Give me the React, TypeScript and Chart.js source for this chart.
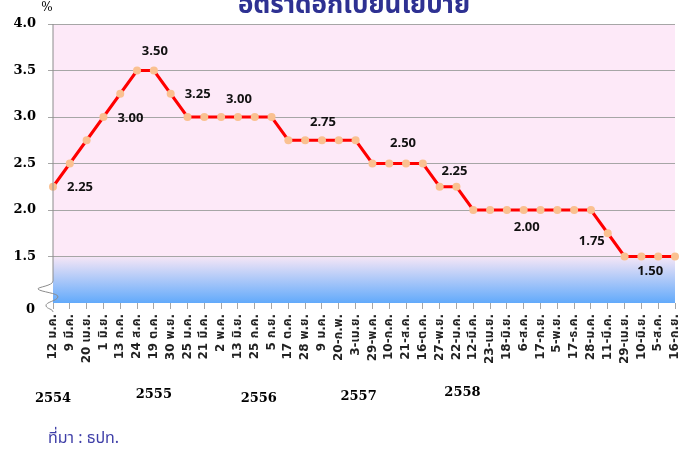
import React, { useEffect, useRef } from "react";
import { Chart, registerables } from "chart.js";

Chart.register(...registerables);

const categories = [
  "12 ม.ค.", "9 มี.ค.", "20 เม.ย.", "1 มิ.ย.", "13 ก.ค.", "24 ส.ค.", "19 ต.ค.", "30 พ.ย.",
  "25 ม.ค.", "21 มี.ค.", "2 พ.ค.", "13 มิ.ย.", "25 ก.ค.", "5 ก.ย.", "17 ต.ค.", "28 พ.ย.",
  "9 ม.ค.", "20-ก.พ.", "3-เม.ย.", "29-พ.ค.", "10-ก.ค.", "21-ส.ค.", "16-ต.ค.", "27-พ.ย.",
  "22-ม.ค.", "12-มี.ค.", "23-เม.ย.", "18-มิ.ย.", "6-ส.ค.", "17-ก.ย.", "5-พ.ย.", "17-ธ.ค.",
  "28-ม.ค.", "11-มี.ค.", "29-เม.ย.", "10-มิ.ย.", "5-ส.ค.", "16-ก.ย.",
];

const policyRate = [
  2.25, 2.5, 2.75, 3.0, 3.25, 3.5, 3.5, 3.25,
  3.0, 3.0, 3.0, 3.0, 3.0, 3.0, 2.75, 2.75,
  2.75, 2.75, 2.75, 2.5, 2.5, 2.5, 2.5, 2.25,
  2.25, 2.0, 2.0, 2.0, 2.0, 2.0, 2.0, 2.0,
  2.0, 1.75, 1.5, 1.5, 1.5, 1.5,
];

const yTickValues = [1.0, 1.5, 2.0, 2.5, 3.0, 3.5, 4.0];
const yTickLabels = ["0", "1.5", "2.0", "2.5", "3.0", "3.5", "4.0"];

const rateLabels = ["2.25", "3.00", "3.50", "3.25", "3.00", "2.75", "2.50", "2.25", "2.00", "1.75", "1.50"];
const rateLabelAnchors = [0, 3, 6, 7, 11, 16, 21, 24, 28, 33, 36];

const yearLabels = ["2554", "2555", "2556", "2557", "2558"];
const yearAnchors = [0, 6, 12, 18, 24];

const titleText = "อัตราดอกเบี้ยนโยบาย";
const unitText = "%";
const sourceText = "ที่มา : ธปท.";

// styling offsets (pixels) for rate labels and year labels
const rateLabelOffsets: [number, number][] = [
  [27, 1], [27, 1], [1, -19], [27, 1], [1, -18], [1, -18], [-3, -20], [-2, -15], [3, 17], [-16, 8], [-8, 15],
];
const yearLabelShift: [number, number][] = [[0, 2], [0, -2], [4, 2], [3, 0], [6, -4]];

const THAI_FONT = "Tahoma, 'Noto Sans Thai', 'Noto Sans', 'DejaVu Sans', sans-serif";
const XTICK_FONT = "'DejaVu Sans', 'Noto Sans Thai', sans-serif";
const SERIF = "'DejaVu Serif', 'Liberation Serif', serif";

const decorPlugin = {
  id: "decor",
  beforeDraw(chart: any) {
    const { ctx, chartArea } = chart;
    const y = chart.scales.y;
    const y15 = y.getPixelForValue(1.5);
    ctx.save();
    ctx.fillStyle = "#FDE9F8";
    ctx.fillRect(chartArea.left, chartArea.top, chartArea.right - chartArea.left, y15 - chartArea.top);
    const g = ctx.createLinearGradient(0, y15, 0, chartArea.bottom);
    g.addColorStop(0, "#F6E6F6");
    g.addColorStop(1, "#62AAFB");
    ctx.fillStyle = g;
    ctx.fillRect(chartArea.left, y15, chartArea.right - chartArea.left, chartArea.bottom - y15);
    ctx.restore();
  },
  afterDraw(chart: any) {
    const { ctx, chartArea } = chart;
    const xs = chart.scales.x;
    const ys = chart.scales.y;
    ctx.save();
    // y axis line with break symbol
    const ax = chartArea.left;
    ctx.strokeStyle = "#8C8C8C";
    ctx.lineWidth = 1;
    ctx.beginPath();
    ctx.moveTo(ax, chartArea.top);
    ctx.lineTo(ax, chartArea.bottom - 22);
    ctx.bezierCurveTo(ax, chartArea.bottom - 17, ax - 16, chartArea.bottom - 16, ax - 15, chartArea.bottom - 14);
    ctx.bezierCurveTo(ax - 13, chartArea.bottom - 11, ax + 6, chartArea.bottom - 10, ax + 5, chartArea.bottom - 6);
    ctx.bezierCurveTo(ax + 4, chartArea.bottom - 2, ax - 8, chartArea.bottom - 1, ax - 7, chartArea.bottom + 3);
    ctx.bezierCurveTo(ax - 6, chartArea.bottom + 6, ax, chartArea.bottom + 6, ax, chartArea.bottom + 9);
    ctx.stroke();

    // the "0" tick label sits a little below its tick in the reference
    ctx.font = "bold 13px " + SERIF;
    ctx.fillStyle = "#000000";
    ctx.textAlign = "right";
    ctx.textBaseline = "middle";
    ctx.fillText(yTickLabels[0], 35, ys.getPixelForValue(yTickValues[0]) + 7);

    // rate labels
    ctx.fillStyle = "#111111";
    ctx.font = "bold 13px 'Open Sans', 'DejaVu Sans', sans-serif";
    ctx.textAlign = "center";
    ctx.textBaseline = "middle";
    rateLabels.forEach((t, i) => {
      const idx = rateLabelAnchors[i];
      const px = xs.getPixelForValue(idx);
      const py = ys.getPixelForValue(policyRate[idx]);
      const [dx, dy] = rateLabelOffsets[i];
      ctx.fillText(t, px + dx, py + dy);
    });

    // year labels
    ctx.font = "bold 13px " + SERIF;
    ctx.fillStyle = "#000000";
    yearLabels.forEach((t, i) => {
      const px = xs.getPixelForValue(yearAnchors[i]);
      const [dx, dy] = yearLabelShift[i];
      ctx.fillText(t, px + dx, 397 + dy);
    });

    // title
    ctx.font = "bold 26px " + THAI_FONT;
    ctx.fillStyle = "#2E3192";
    ctx.textBaseline = "alphabetic";
    ctx.fillText(titleText, 354, 13);

    // unit
    ctx.font = "12px " + SERIF;
    ctx.fillStyle = "#000000";
    ctx.textAlign = "center";
    ctx.textBaseline = "middle";
    ctx.fillText(unitText, 47, 8);

    // source
    ctx.font = "16px " + THAI_FONT;
    ctx.fillStyle = "#3F3FA8";
    ctx.textAlign = "left";
    ctx.fillText(sourceText, 48, 440);
    ctx.restore();
  },
};

export default function App() {
  const ref = useRef<HTMLCanvasElement | null>(null);
  useEffect(() => {
    if (!ref.current) return;
    const chart = new Chart(ref.current, {
      type: "line",
      data: {
        labels: categories,
        datasets: [
          {
            data: policyRate,
            borderColor: "#FF0000",
            borderWidth: 3,
            pointBackgroundColor: "#FAC191",
            pointBorderColor: "#FAC191",
            pointRadius: 4,
            pointBorderWidth: 0,
            tension: 0,
          },
        ],
      },
      options: {
        animation: false,
        responsive: false,
        maintainAspectRatio: false,
        layout: { padding: { top: 24, right: 14, left: 0, bottom: 0 } },
        plugins: { legend: { display: false }, tooltip: { enabled: false }, title: { display: false } },
        scales: {
          x: {
            offset: false,
            grid: { display: true, drawOnChartArea: false, drawTicks: true, tickLength: 6, color: "#A6A6A6" },
            border: { display: false },
            ticks: {
              autoSkip: false,
              maxRotation: 90,
              minRotation: 90,
              padding: 5,
              color: "#222222",
              font: { size: 12, family: XTICK_FONT, weight: "bold" },
            },
            afterFit(scale: any) {
              scale.height = 149;
              scale.paddingLeft = 0;
              scale.paddingRight = 0;
            },
          },
          y: {
            min: 1.0,
            max: 4.0,
            afterBuildTicks(scale: any) {
              scale.ticks = yTickValues.map((v) => ({ value: v }));
            },
            grid: {
              color: (c: any) => (c.tick && c.tick.value === 1.0 ? "rgba(0,0,0,0)" : "#A6A6A6"),
              tickLength: 5,
              drawTicks: true,
            },
            border: { display: false },
            ticks: {
              padding: 12,
              color: "#000000",
              font: { size: 13, family: SERIF, weight: "bold" },
              callback: (v: any) => {
                const i = yTickValues.indexOf(Number(v));
                return i > 0 ? yTickLabels[i] : "";
              },
            },
            afterFit(scale: any) {
              scale.width = 53;
              scale.paddingTop = 0;
              scale.paddingBottom = 0;
            },
          },
        },
      },
      plugins: [decorPlugin],
    });
    return () => chart.destroy();
  }, []);
  return (
    <div style={{ position: "fixed", left: 0, top: 0, width: 689, height: 452, background: "#FFFFFF" }}>
      <canvas ref={ref} width={689} height={452} style={{ width: 689, height: 452 }} />
    </div>
  );
}
